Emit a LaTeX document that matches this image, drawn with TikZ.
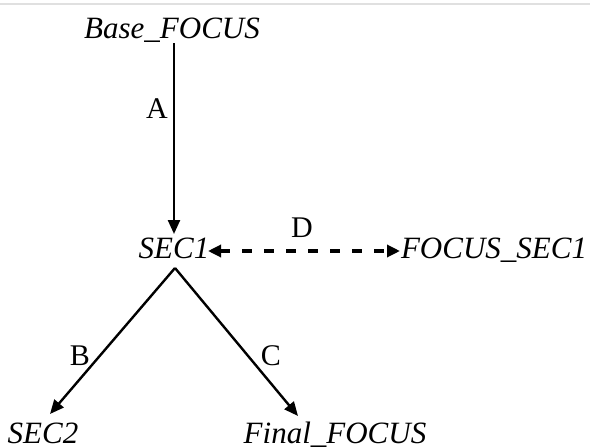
\documentclass[tikz,border=0pt]{standalone}
\usepackage{fontspec}
\setmainfont{Liberation Serif}
\usetikzlibrary{arrows.meta}
\begin{document}
\begin{tikzpicture}[x=1pt,y=-1pt,
  lbl/.style={font=\fontsize{31}{34}\selectfont\itshape, inner sep=0pt, anchor=base},
  edgelbl/.style={font=\fontsize{30}{33}\selectfont, inner sep=0pt, anchor=base},
  arr/.style={line width=2.4pt, -{Triangle[length=14pt,width=12pt]}},
  darr/.style={line width=3.2pt, dash pattern=on 10pt off 12pt, {Triangle[length=13pt,width=12pt]}-{Triangle[length=13pt,width=12pt]}}]
\useasboundingbox (0,0) rectangle (590,447);
\clip (0,0) rectangle (590,447);
\fill[white] (0,0) rectangle (590,447);
\draw[black!12, line width=2pt] (0,4) -- (590,4);
\node[lbl] (base) at (172,38) {Base\_FOCUS};
\node[lbl] (sec1) at (174,258) {SEC1};
\node[lbl] (fsec) at (494,258) {FOCUS\_SEC1};
\node[lbl] (sec2) at (43,443) {SEC2};
\node[lbl] (final) at (335,443) {Final\_FOCUS};
\coordinate (atop) at (174,43);
\coordinate (abot) at (174,234);
\coordinate (dl) at (208,251);
\coordinate (dr) at (400,251);
\coordinate (split) at (175,268);
\coordinate (btip) at (50,414);
\coordinate (ctip) at (298,416);
\draw[arr] (atop) -- (abot);
\draw[darr] (dl) -- (dr);
\draw[arr] (split) -- (btip);
\draw[arr] (split) -- (ctip);
\node[edgelbl] (la) at (157,118) {A};
\node[edgelbl] (ld) at (302,237) {D};
\node[edgelbl] (lb) at (80,365) {B};
\node[edgelbl] (lc) at (271,365) {C};
\end{tikzpicture}
\end{document}
